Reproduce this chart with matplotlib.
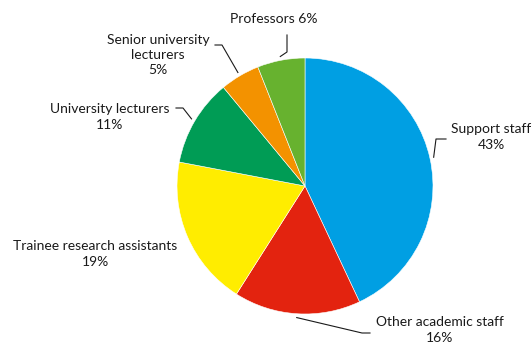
import numpy as np
import matplotlib
matplotlib.use("Agg")
import matplotlib.pyplot as plt

plt.rcParams['font.family'] = ['Lato', 'DejaVu Sans']

# Staff composition (percent), clockwise from 12 o'clock
categories = ["Support staff", "Other academic staff", "Trainee research assistants",
              "University lecturers", "Senior university lecturers", "Professors"]
shares = [43, 16, 19, 11, 5, 6]
label_texts = ["Support staff\n43%", "Other academic staff\n16%",
               "Trainee research assistants\n19%", "University lecturers\n11%",
               "Senior university\nlecturers\n5%", "Professors 6%"]
colors = ["#009FE3", "#E3230F", "#FFED00", "#009C55", "#F39200", "#67B22F"]

W, H = 532, 344
fig = plt.figure(figsize=(W / 100, H / 100), dpi=100)
ax = fig.add_axes([0, 0, 1, 1])
ax.set_xlim(0, W)
ax.set_ylim(0, H)
ax.set_aspect('equal')
ax.axis('off')

cx, cy, r = 305, H - 186, 128
wedges, _ = ax.pie(shares, colors=colors, startangle=90, counterclock=False,
                   center=(cx, cy), radius=r, frame=True,
                   wedgeprops=dict(linewidth=0.4, edgecolor='white'))
ax.set_xlim(0, W)
ax.set_ylim(0, H)
ax.axis('off')

# label anchors (text centre) and leader-line elbows, in pixel layout
layout = {
    "Support staff": dict(xy=(491, H - 137), elbow=[(446, H - 139), (436, H - 139)], lines=True),
    "Other academic staff": dict(xy=(440, H - 330), elbow=[(370, H - 333), (362, H - 333)], lines=True),
    "Trainee research assistants": dict(xy=(95, H - 254), elbow=None, lines=False),
    "University lecturers": dict(xy=(110, H - 117), elbow=[(176, H - 108), (183, H - 108)], lines=True),
    "Senior university lecturers": dict(xy=(158, H - 55), elbow=[(215, H - 45), (222, H - 45)], lines=True),
    "Professors": dict(xy=(274, H - 19), elbow=[(287, H - 35), (287, H - 52)], lines=True),
}

for w, cat, txt in zip(wedges, categories, label_texts):
    spec = layout[cat]
    ax.text(spec['xy'][0], spec['xy'][1], txt, ha='center', va='center',
            fontsize=10, color='#1a1a1a', linespacing=1.35)
    if spec['lines']:
        mid = np.deg2rad((w.theta1 + w.theta2) / 2)
        px = cx + r * 1.03 * np.cos(mid)
        py = cy + r * 1.03 * np.sin(mid)
        pts = spec['elbow'] + [(px, py)]
        xs, ys = zip(*pts)
        ax.plot(xs, ys, color='#1a1a1a', linewidth=0.8)

fig.savefig("out.png", dpi=100)
